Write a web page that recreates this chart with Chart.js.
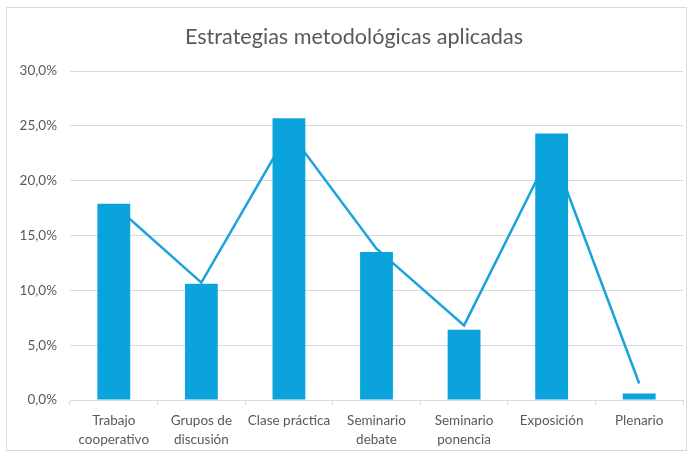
<!DOCTYPE html>
<html>
<head>
<meta charset="utf-8">
<script src="https://cdn.jsdelivr.net/npm/chart.js@4"></script>
<style>
  html, body { margin: 0; padding: 0; background: #fff; }
  #wrap { position: relative; width: 694px; height: 456px; }
  #frame { position: absolute; left: 6px; top: 7px; width: 681px; height: 444px; border: 1px solid #d9d9d9; box-sizing: border-box; }
  #chart { position: absolute; left: 0; top: 0; }
</style>
</head>
<body>
<div id="wrap">
  <div id="frame"></div>
  <canvas id="chart" width="694" height="456"></canvas>
</div>
<script>
const categories = [
  ["Trabajo", "cooperativo"],
  ["Grupos de", "discusión"],
  ["Clase práctica"],
  ["Seminario", "debate"],
  ["Seminario", "ponencia"],
  ["Exposición"],
  ["Plenario"]
];
const barValues  = [17.9, 10.6, 25.7, 13.5, 6.4, 24.3, 0.6];
const lineValues = [17.8, 10.7, 24.5, 13.8, 6.8, 22.8, 1.5];
const yTicks = [0, 5, 10, 15, 20, 25, 30];
const titleText = "Estrategias metodológicas aplicadas";

const blue = "#0aa3dc";
const grey = "#595959";
const FONT = "Lato, 'Open Sans', sans-serif";

// title drawn by hand so it can sit a little right of the canvas centre, like the original
const titlePlugin = {
  id: "offsetTitle",
  afterDraw(chart) {
    const ctx = chart.ctx;
    ctx.save();
    ctx.font = "21.6px " + FONT;
    ctx.fillStyle = grey;
    ctx.textAlign = "center";
    ctx.textBaseline = "middle";
    ctx.fillText(titleText, 354, 37);
    ctx.restore();
  }
};

new Chart(document.getElementById("chart").getContext("2d"), {
  data: {
    labels: categories,
    datasets: [
      {
        type: "bar",
        data: barValues,
        backgroundColor: blue,
        borderWidth: 0,
        categoryPercentage: 1,
        barPercentage: 0.375,
        order: 1
      },
      {
        type: "line",
        data: lineValues,
        borderColor: "#1ba3dc",
        borderWidth: 2.5,
        pointRadius: 0,
        tension: 0,
        order: 2
      }
    ]
  },
  plugins: [titlePlugin],
  options: {
    responsive: false,
    animation: false,
    layout: { padding: { left: 0, right: 11, top: 71, bottom: 0 } },
    plugins: {
      legend: { display: false },
      tooltip: { enabled: false },
      title: { display: false }
    },
    scales: {
      x: {
        offset: true,
        grid: { offset: true, drawOnChartArea: false, color: "#d9d9d9", tickLength: 5 },
        border: { color: "#d9d9d9" },
        ticks: {
          color: grey,
          font: { family: FONT, size: 13.5, lineHeight: 1.42 },
          padding: 6,
          maxRotation: 0,
          autoSkip: false
        },
        afterFit: s => { s.height = 56; }
      },
      y: {
        min: 0,
        max: 30,
        afterBuildTicks: s => { s.ticks = yTicks.map(v => ({ value: v })); },
        grid: { color: "#d9d9d9", drawTicks: false },
        border: { display: false },
        ticks: {
          color: grey,
          font: { family: FONT, size: 13.5 },
          padding: 13,
          callback: v => v.toFixed(1).replace(".", ",") + "%"
        },
        afterFit: s => { s.width = 70; }
      }
    }
  }
});
</script>
</body>
</html>
